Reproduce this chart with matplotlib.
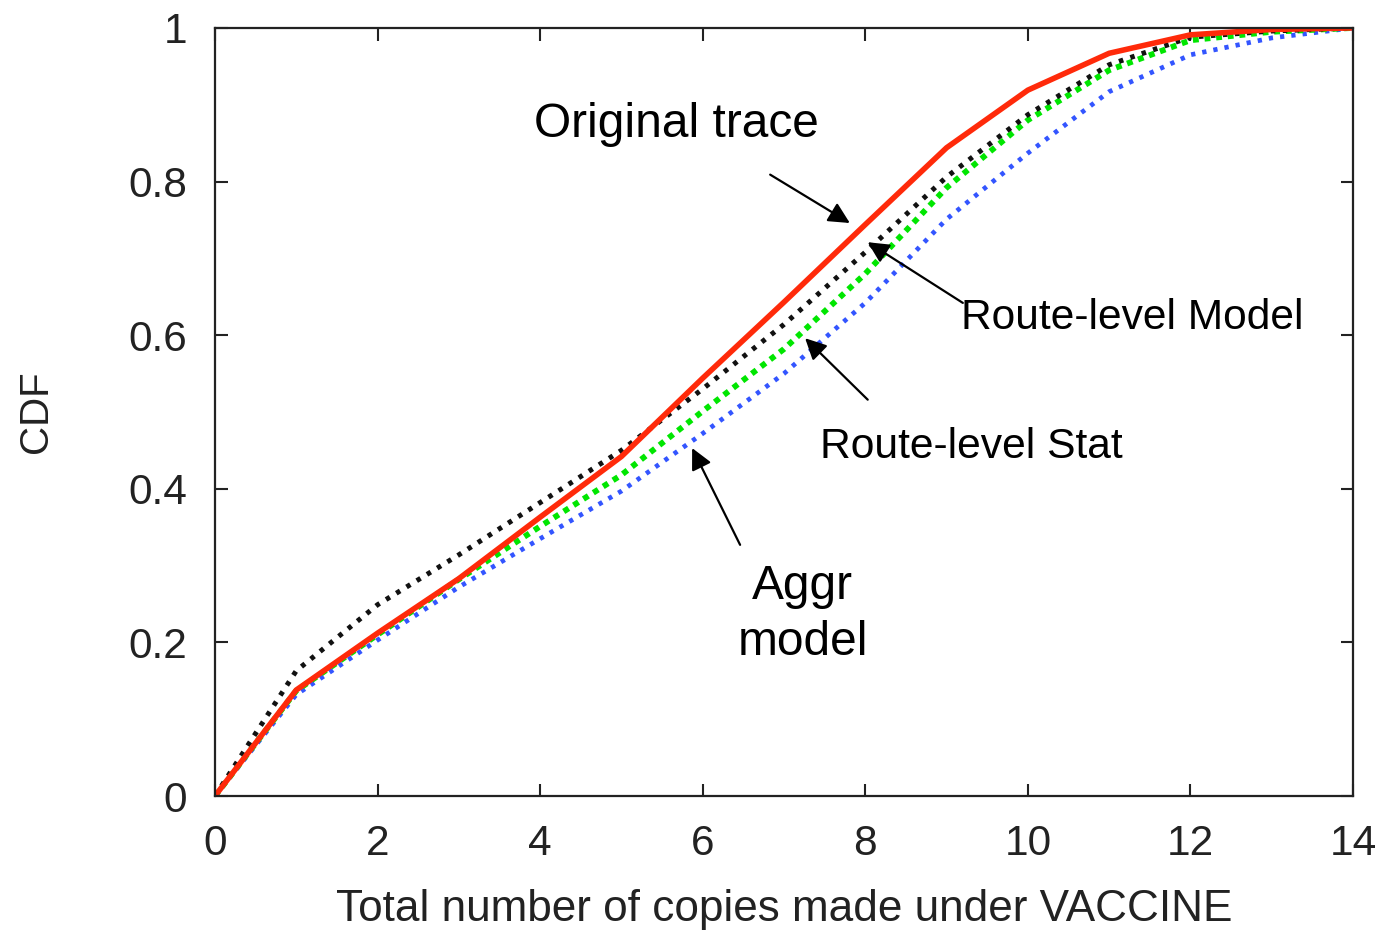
import matplotlib.pyplot as plt

plt.rcParams['font.family'] = ['Liberation Sans', 'DejaVu Sans']

# CDF of total copies per bundle, evaluated at integer copy counts
copies = list(range(15))
original_trace = [0, 0.138, 0.212, 0.283, 0.363, 0.442, 0.544, 0.643, 0.744, 0.844,
                  0.919, 0.967, 0.991, 0.998, 1.0]
route_model = [0, 0.163, 0.249, 0.314, 0.382, 0.450, 0.530, 0.614, 0.708, 0.806,
               0.887, 0.952, 0.988, 0.996, 1.0]
route_stat = [0, 0.137, 0.210, 0.282, 0.351, 0.418, 0.501, 0.582, 0.680, 0.792,
              0.880, 0.945, 0.984, 0.995, 1.0]
aggr_model = [0, 0.132, 0.203, 0.272, 0.335, 0.397, 0.472, 0.550, 0.642, 0.751,
              0.837, 0.917, 0.965, 0.987, 1.0]

x_ticks = [0, 2, 4, 6, 8, 10, 12, 14]
y_ticks = [0, 0.2, 0.4, 0.6, 0.8, 1.0]
y_ticklabels = ['0', '0.2', '0.4', '0.6', '0.8', '1']

# (label, font size, text position, arrow tail, arrow tip) in data units
callouts = [
    ('Original trace', 34.5, (5.68, 0.874), (6.83, 0.809), (7.81, 0.746)),
    ('Route-level Model', 30.6, (11.28, 0.622), (9.20, 0.642), (8.03, 0.721)),
    ('Route-level Stat', 30.7, (9.30, 0.454), (8.03, 0.516), (7.26, 0.596)),
    ('Aggr\nmodel', 34.5, (7.23, 0.236), (6.46, 0.327), (5.87, 0.453)),
]

fig = plt.figure(figsize=(13.86, 9.31), dpi=100)
ax = fig.add_axes([0.1551, 0.145, 0.8211, 0.825])

ax.plot(copies, aggr_model, color='#3355ff', lw=3.4, ls=(0, (0.9, 1.5)))
ax.plot(copies, route_stat, color='#00e600', lw=4.2, ls=(0, (1.0, 1.0)))
ax.plot(copies, route_model, color='#111111', lw=3.6, ls=(0, (0.9, 1.5)))
ax.plot(copies, original_trace, color='#ff2a0a', lw=4.0)

for label, size, txt, tail, tip in callouts:
    ax.annotate('', xy=tip, xytext=tail,
                arrowprops=dict(arrowstyle='-|>', color='black', lw=1.6,
                                mutation_scale=32, shrinkA=0, shrinkB=0))
    ax.text(txt[0], txt[1], label, fontsize=size, ha='center', va='center',
            linespacing=1.3)

ax.set_xlim(0, 14)
ax.set_ylim(0, 1)
ax.set_xticks(x_ticks)
ax.set_yticks(y_ticks)
ax.set_yticklabels(y_ticklabels)
ax.tick_params(direction='in', length=9, width=1.5, labelsize=30.5,
               top=True, right=True, colors='#222222')
ax.tick_params(axis='x', pad=20)
ax.tick_params(axis='y', pad=20)
for s in ax.spines.values():
    s.set_linewidth(1.6)
    s.set_color('#222222')

ax.set_xlabel('Total number of copies made under VACCINE', fontsize=31.8, labelpad=18,
              color='#222222')
ax.set_ylabel('CDF', fontsize=29, labelpad=53, color='#222222')

fig.savefig('out.png', dpi=100)
